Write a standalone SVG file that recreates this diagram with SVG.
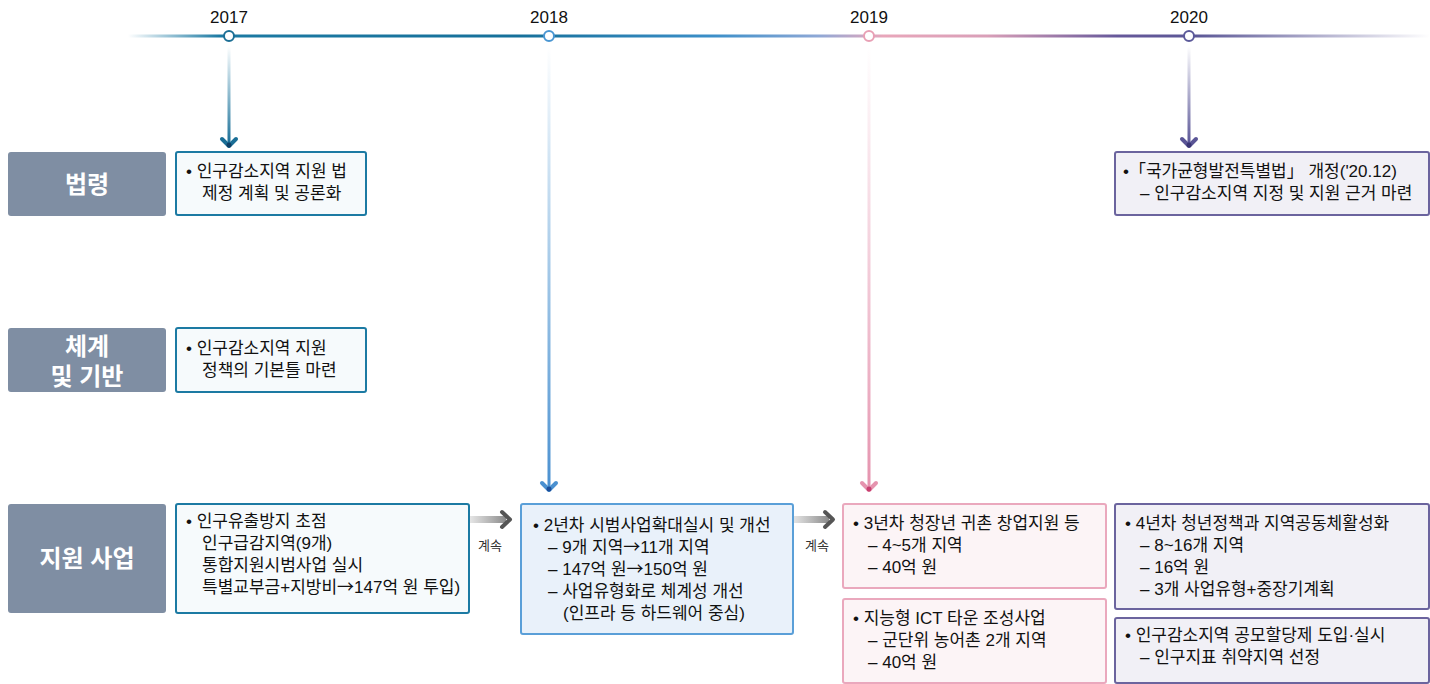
<svg xmlns="http://www.w3.org/2000/svg" width="1430" height="684" viewBox="0 0 1430 684">
<defs>
<linearGradient id="tl" gradientUnits="userSpaceOnUse" x1="128" y1="0" x2="1430" y2="0">
<stop offset="0" stop-color="#1c7aa3" stop-opacity="0"/>
<stop offset="0.07" stop-color="#1c7aa3"/>
<stop offset="0.3" stop-color="#16709a"/>
<stop offset="0.45" stop-color="#3c8fc9"/>
<stop offset="0.53" stop-color="#8ea8d6"/>
<stop offset="0.58" stop-color="#e8a6ba"/>
<stop offset="0.66" stop-color="#d99fb8"/>
<stop offset="0.76" stop-color="#66589a"/>
<stop offset="0.82" stop-color="#5b5796"/>
<stop offset="1" stop-color="#5b5796" stop-opacity="0"/>
</linearGradient>
<linearGradient id="v17" x1="0" y1="0" x2="0" y2="1">
<stop offset="0" stop-color="#1c7aa3" stop-opacity="0"/>
<stop offset="1" stop-color="#1a6e96"/>
</linearGradient>
<linearGradient id="v18" x1="0" y1="0" x2="0" y2="1">
<stop offset="0" stop-color="#4a96d2" stop-opacity="0"/>
<stop offset="1" stop-color="#4a90d0"/>
</linearGradient>
<linearGradient id="v19" x1="0" y1="0" x2="0" y2="1">
<stop offset="0" stop-color="#e8a0b8" stop-opacity="0"/>
<stop offset="1" stop-color="#e593ae"/>
</linearGradient>
<linearGradient id="v20" x1="0" y1="0" x2="0" y2="1">
<stop offset="0" stop-color="#5c5a9a" stop-opacity="0"/>
<stop offset="1" stop-color="#5a5596"/>
</linearGradient>
<linearGradient id="ga" x1="0" y1="0" x2="1" y2="0">
<stop offset="0" stop-color="#9a9a9a" stop-opacity="0"/>
<stop offset="1" stop-color="#8a8a8a"/>
</linearGradient>
</defs>
<style>
text{font-family:"Liberation Sans","Noto Sans CJK KR",sans-serif;}
.yr{font-size:17px;fill:#111;text-anchor:middle;}
.lab{fill:#7f8ea3;}
.lt{font-size:24px;font-weight:bold;fill:#fff;text-anchor:middle;}
.t{font-size:17px;fill:#111;}
.ar{font-family:"Noto Sans CJK KR",sans-serif;}
.b17{fill:#f6fafc;stroke:#1c7aa3;stroke-width:2;}
.b18{fill:#e9f1fa;stroke:#5a9fd8;stroke-width:2;}
.b19{fill:#fcf4f6;stroke:#eaa8bd;stroke-width:2;}
.b20{fill:#f1f0f6;stroke:#6b649e;stroke-width:2;}
.ks{font-size:13px;fill:#333;text-anchor:middle;}
</style>

<g id="timeline">
<line x1="128" y1="36" x2="1430" y2="36" stroke="url(#tl)" stroke-width="3"/>
<circle cx="229" cy="36" r="5" fill="#fff" stroke="#1c6f95" stroke-width="2"/>
<circle cx="549" cy="36" r="5" fill="#fff" stroke="#4a96d2" stroke-width="2"/>
<circle cx="869" cy="36" r="5" fill="#fff" stroke="#e8a0b5" stroke-width="2"/>
<circle cx="1189" cy="36" r="5" fill="#fff" stroke="#5c5a9a" stroke-width="2"/>
<text class="yr" x="229" y="23">2017</text>
<text class="yr" x="549" y="23">2018</text>
<text class="yr" x="869" y="23">2019</text>
<text class="yr" x="1189" y="23">2020</text>
</g>

<g id="connectors">
<rect x="227.5" y="46" width="3" height="98" fill="url(#v17)"/>
<path d="M222 139 L229 146 L236 139" fill="none" stroke="#1a6e96" stroke-width="4" stroke-linecap="round" stroke-linejoin="round"/>
<circle cx="229" cy="145" r="2.5" fill="#0f3f66"/>
<rect x="547.5" y="46" width="3" height="442" fill="url(#v18)"/>
<path d="M542 483 L549 490 L556 483" fill="none" stroke="#4a90d0" stroke-width="4" stroke-linecap="round" stroke-linejoin="round"/>
<circle cx="549" cy="489" r="2.5" fill="#1c4f9a"/>
<rect x="867.5" y="46" width="3" height="442" fill="url(#v19)"/>
<path d="M862 483 L869 490 L876 483" fill="none" stroke="#e593ae" stroke-width="4" stroke-linecap="round" stroke-linejoin="round"/>
<circle cx="869" cy="489" r="2.5" fill="#c84070"/>
<rect x="1187.5" y="46" width="3" height="98" fill="url(#v20)"/>
<path d="M1182 139 L1189 146 L1196 139" fill="none" stroke="#5a5596" stroke-width="4" stroke-linecap="round" stroke-linejoin="round"/>
<circle cx="1189" cy="145" r="2.5" fill="#3a3574"/>
<rect x="458" y="516" width="48" height="7" fill="url(#ga)"/>
<path d="M502 512 L510 519.5 L502 527" fill="none" stroke="#555" stroke-width="4" stroke-linecap="round" stroke-linejoin="round"/>
<text class="ks" x="490" y="550">계속</text>
<rect x="781" y="516" width="48" height="7" fill="url(#ga)"/>
<path d="M825 512 L833 519.5 L825 527" fill="none" stroke="#555" stroke-width="4" stroke-linecap="round" stroke-linejoin="round"/>
<text class="ks" x="817" y="550">계속</text>
</g>

<g id="label-law">
<rect class="lab" x="8" y="152" width="158" height="64" rx="3"/>
<text class="lt" x="87" y="193">법령</text>
</g>
<g id="label-system">
<rect class="lab" x="8" y="328" width="158" height="64" rx="3"/>
<text class="lt" x="87" y="355">체계<tspan x="87" dy="30">및 기반</tspan></text>
</g>
<g id="label-support">
<rect class="lab" x="8" y="504" width="158" height="109" rx="3"/>
<text class="lt" x="87" y="567">지원 사업</text>
</g>

<g id="n2017-law">
<rect class="b17" x="176" y="152" width="190" height="63" rx="2"/>
<text class="t" x="186" y="177">• 인구감소지역 지원 법<tspan x="202" dy="22">제정 계획 및 공론화</tspan></text>
</g>
<g id="n2017-system">
<rect class="b17" x="176" y="328" width="190" height="64" rx="2"/>
<text class="t" x="186" y="354">• 인구감소지역 지원<tspan x="202" dy="22">정책의 기본틀 마련</tspan></text>
</g>
<g id="n2017-support">
<rect class="b17" x="176" y="504" width="293" height="109" rx="2"/>
<text class="t" x="186" y="527">• 인구유출방지 초점<tspan x="202" dy="22">인구급감지역(9개)</tspan><tspan x="202" dy="22">통합지원시범사업 실시</tspan><tspan x="202" dy="22">특별교부금+지방비<tspan class="ar">→</tspan>147억 원 투입)</tspan></text>
</g>
<g id="n2018">
<rect class="b18" x="521" y="504" width="272" height="130" rx="2"/>
<text class="t" x="533" y="531">• 2년차 시범사업확대실시 및 개선<tspan x="548" dy="22">– 9개 지역<tspan class="ar">→</tspan>11개 지역</tspan><tspan x="548" dy="22">– 147억 원<tspan class="ar">→</tspan>150억 원</tspan><tspan x="548" dy="22">– 사업유형화로 체계성 개선</tspan><tspan x="563" dy="22">(인프라 등 하드웨어 중심)</tspan></text>
</g>
<g id="n2019a">
<rect class="b19" x="843" y="504" width="263" height="84" rx="2"/>
<text class="t" x="853" y="529">• 3년차 청장년 귀촌 창업지원 등<tspan x="868" dy="22">– 4~5개 지역</tspan><tspan x="868" dy="22">– 40억 원</tspan></text>
</g>
<g id="n2019b">
<rect class="b19" x="843" y="599" width="263" height="84" rx="2"/>
<text class="t" x="853" y="624">• 지능형 ICT 타운 조성사업<tspan x="868" dy="22">– 군단위 농어촌 2개 지역</tspan><tspan x="868" dy="22">– 40억 원</tspan></text>
</g>
<g id="n2020-law">
<rect class="b20" x="1115" y="152" width="314" height="63" rx="2"/>
<text class="t" x="1123" y="177">•「국가균형발전특별법」 개정('20.12)<tspan x="1140" dy="22">– 인구감소지역 지정 및 지원 근거 마련</tspan></text>
</g>
<g id="n2020a">
<rect class="b20" x="1115" y="504" width="314" height="105" rx="2"/>
<text class="t" x="1125" y="529">• 4년차 청년정책과 지역공동체활성화<tspan x="1140" dy="22">– 8~16개 지역</tspan><tspan x="1140" dy="22">– 16억 원</tspan><tspan x="1140" dy="22">– 3개 사업유형+중장기계획</tspan></text>
</g>
<g id="n2020b">
<rect class="b20" x="1115" y="618" width="314" height="65" rx="2"/>
<text class="t" x="1125" y="641">• 인구감소지역 공모할당제 도입·실시<tspan x="1140" dy="22">– 인구지표 취약지역 선정</tspan></text>
</g>
</svg>
